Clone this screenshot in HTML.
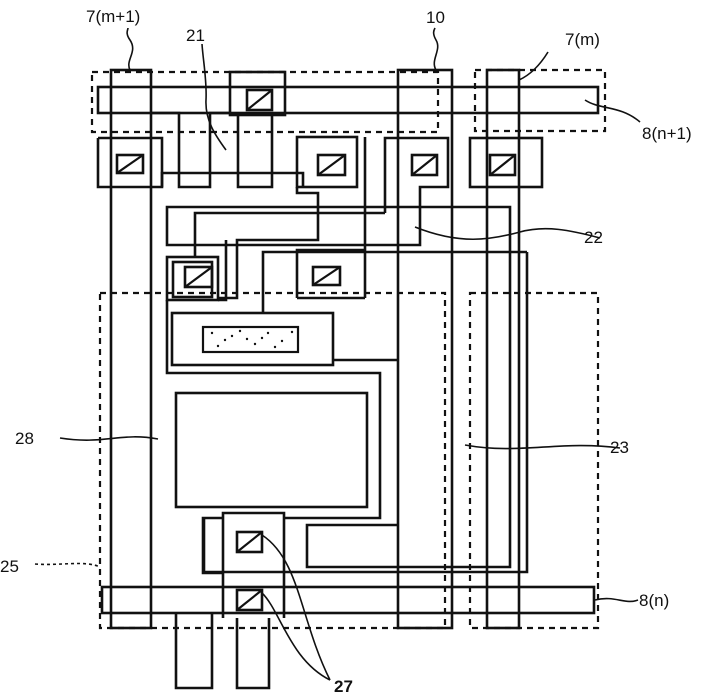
<!DOCTYPE html>
<html><head><meta charset="utf-8"><style>
html,body{margin:0;padding:0;background:#fff;}
svg{display:block;}
text{font-family:"Liberation Sans",sans-serif;font-size:17px;fill:#111;}
</style></head><body>
<svg width="708" height="694" viewBox="0 0 708 694" xmlns="http://www.w3.org/2000/svg">
<g fill="none" stroke="#111" stroke-width="2.6">
<g stroke-dasharray="6,5" stroke-width="2.2">
<rect x="92" y="72" width="346" height="60"/>
<rect x="475" y="70" width="130" height="61"/>
<rect x="100" y="293" width="345" height="335"/>
<rect x="470" y="293" width="128" height="335"/>
</g>
<rect x="111" y="70" width="40" height="558"/>
<rect x="398" y="70" width="54" height="558"/>
<rect x="487" y="70" width="32" height="558"/>
<rect x="98" y="87" width="500" height="26"/>
<rect x="230" y="72" width="55" height="43"/>
<rect x="247" y="90" width="25" height="20"/>
<polyline points="152,113 179,113 179,187 210,187 210,113 230,113"/>
<polyline points="238,113 238,187 272,187 272,115"/>
<polyline points="162,187 162,173 303,173 303,187"/>
<polyline points="98,138 162,138 162,187 98,187 98,138"/>
<rect x="117" y="155" width="26" height="18"/>
<rect x="297" y="137" width="60" height="50"/>
<rect x="318" y="155" width="27" height="20"/>
<polyline points="365,137 365,298"/>
<polyline points="297,187 297,193 318,193 318,240 237,240 237,298 218,298"/>
<polyline points="385,213 385,138 448,138 448,187 420,187 420,240"/>
<rect x="412" y="155" width="25" height="20"/>
<rect x="470" y="138" width="72" height="49"/>
<rect x="490" y="155" width="25" height="20"/>
<polyline points="420,240 420,245 167,245 167,207 510,207 510,567 307,567 307,525 398,525"/>
<polyline points="385,213 195,213 195,258"/>
<polyline points="527,252 263,252 263,313"/>
<polyline points="527,252 527,572 204,572 204,518"/>
<rect x="167" y="257" width="51" height="43"/>
<rect x="173" y="262" width="39" height="35"/>
<rect x="185" y="267" width="27" height="20"/>
<polyline points="226,240 226,300 218,300"/>
<polyline points="297,298 297,250 365,250"/>
<line x1="297" y1="298" x2="365" y2="298"/>
<rect x="313" y="267" width="27" height="18"/>
<polyline points="167,300 167,373 380,373 380,518 284,518"/>
<rect x="172" y="313" width="161" height="52"/>
<rect x="203" y="327" width="95" height="25" stroke-width="2.2"/>
<line x1="333" y1="360" x2="398" y2="360"/>
<rect x="176" y="393" width="191" height="114"/>
<polyline points="223,618 223,513 284,513 284,618"/>
<polyline points="223,518 203,518 203,573 223,573"/>
<rect x="237" y="532" width="25" height="20"/>
<rect x="237" y="590" width="25" height="20"/>
<rect x="102" y="587" width="492" height="26"/>
<polyline points="176,613 176,688 212,688 212,613"/>
<polyline points="237,618 237,688 269,688 269,618"/>
</g>
<g stroke="#111" stroke-width="2.2">
<line x1="247" y1="110" x2="272" y2="90"/>
<line x1="117" y1="173" x2="143" y2="155"/>
<line x1="318" y1="175" x2="345" y2="155"/>
<line x1="412" y1="175" x2="437" y2="155"/>
<line x1="490" y1="175" x2="515" y2="155"/>
<line x1="185" y1="287" x2="212" y2="267"/>
<line x1="313" y1="285" x2="340" y2="267"/>
<line x1="237" y1="552" x2="262" y2="532"/>
<line x1="237" y1="610" x2="262" y2="590"/>
</g>
<g fill="#111">
<circle cx="212" cy="333" r="1.2"/><circle cx="225" cy="340" r="1.2"/><circle cx="240" cy="331" r="1.2"/><circle cx="255" cy="344" r="1.2"/><circle cx="268" cy="333" r="1.2"/><circle cx="282" cy="341" r="1.2"/><circle cx="292" cy="332" r="1.2"/><circle cx="218" cy="346" r="1.2"/><circle cx="247" cy="339" r="1.2"/><circle cx="275" cy="347" r="1.2"/><circle cx="232" cy="336" r="1.2"/><circle cx="262" cy="338" r="1.2"/>
</g>
<g fill="none" stroke="#111" stroke-width="1.6">
<path d="M130,70 C125,60 138,52 130,40 C125,33 128,30 128,28"/>
<path d="M226,150 C215,135 205,120 206,100 C207,80 203,60 202,44"/>
<path d="M436,70 C430,60 442,50 436,40 C432,33 434,30 435,28"/>
<path d="M519,80 C530,75 540,65 548,52"/>
<path d="M585,100 C600,110 620,105 640,122"/>
<path d="M415,227 C460,245 490,240 520,232 C545,225 570,230 600,238"/>
<path d="M158,439 C120,432 105,445 60,438"/>
<path d="M465,445 C520,455 560,440 620,448"/>
<path d="M35,564 C60,566 85,560 100,567" stroke-dasharray="3,3"/>
<path d="M595,600 C615,595 625,605 638,600"/>
<path d="M262,535 C300,560 300,620 330,680"/>
<path d="M262,593 C280,610 290,660 330,680"/>
</g>
<text x="86" y="22">7(m+1)</text>
<text x="186" y="41">21</text>
<text x="426" y="23">10</text>
<text x="565" y="45">7(m)</text>
<text x="642" y="139">8(n+1)</text>
<text x="584" y="243" font-size="18">22</text>
<text x="610" y="453" font-size="18">23</text>
<text x="15" y="444" font-size="18">28</text>
<text x="0" y="572" font-size="18">25</text>
<text x="639" y="606">8(n)</text>
<text x="334" y="692" font-size="19" font-weight="bold">27</text>
</svg>
</body></html>
